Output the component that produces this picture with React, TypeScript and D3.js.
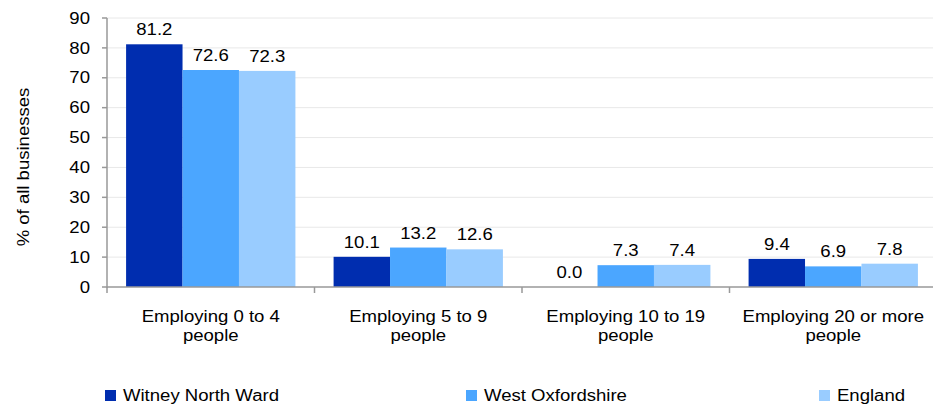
import React from "react";
import * as d3 from "d3";

const categories = [
  ["Employing 0 to 4", "people"],
  ["Employing 5 to 9", "people"],
  ["Employing 10 to 19", "people"],
  ["Employing 20 or more", "people"],
];
const seriesNames = ["Witney North Ward", "West Oxfordshire", "England"];
const witney = [81.2, 10.1, 0.0, 9.4];
const westOx = [72.6, 13.2, 7.3, 6.9];
const england = [72.3, 12.6, 7.4, 7.8];
const yTicks = [0, 10, 20, 30, 40, 50, 60, 70, 80, 90];
const colors = ["#002DAF", "#4BA6FF", "#99CCFF"];

const SX = 1.16;

function T(props: { x: number; y: number; anchor?: string; rotate?: number; children: React.ReactNode; dy?: string }) {
  const { x, y, anchor = "start", rotate = 0, children, dy } = props;
  return (
    <text
      transform={`translate(${x},${y}) rotate(${rotate}) scale(${SX},1)`}
      textAnchor={anchor}
      fontSize={16}
      fill="#000"
      dy={dy}
    >
      {children}
    </text>
  );
}

export default function App() {
  const W = 933, H = 406;
  const x0 = 107, x1 = 937;
  const yTop = 18, yBot = 287;
  const series = [witney, westOx, england];
  const x = d3.scaleBand<number>().domain(d3.range(categories.length)).range([x0, x1]).paddingInner(0).paddingOuter(0);
  const y = d3.scaleLinear().domain([0, 90]).range([yBot, yTop]);
  const bw = x.bandwidth();
  const groupPad = bw * 0.092;
  const xs = d3.scaleBand<number>().domain([0, 1, 2]).range([groupPad, bw - groupPad]);
  const font = "'Liberation Sans', Arial, sans-serif";
  const legendX = [105, 466, 819];
  return (
    <svg width={W} height={H} style={{ position: "absolute", left: 0, top: 0, fontFamily: font }}>
      <rect width={W} height={H} fill="#fff" />
      {yTicks.map((t) => (
        <g key={t}>
          {t > 0 && <line x1={x0} x2={x1} y1={y(t)} y2={y(t)} stroke="#e8e8e8" strokeWidth={1} />}
          <line x1={x0 - 5} x2={x0} y1={y(t)} y2={y(t)} stroke="#999" strokeWidth={1.5} />
          <T x={x0 - 17} y={y(t)} anchor="end" dy="0.35em">{t}</T>
        </g>
      ))}
      {series.map((vals, si) =>
        vals.map((v, ci) => {
          const bx = (x(ci) as number) + (xs(si) as number);
          return (
            <g key={si + "-" + ci}>
              {v > 0 && (
                <rect x={bx} y={y(v)} width={xs.bandwidth()} height={yBot - y(v)} fill={colors[si]} />
              )}
              <T x={bx + xs.bandwidth() / 2} y={y(v) - 9} anchor="middle">
                {v.toFixed(1)}
              </T>
            </g>
          );
        })
      )}
      <line x1={x0} x2={x0} y1={yTop} y2={yBot + 1} stroke="#999" strokeWidth={1.5} />
      <line x1={x0} x2={x1} y1={yBot} y2={yBot} stroke="#999" strokeWidth={1.5} />
      {categories.map((c, i) => (
        <g key={i}>
          <line x1={(x(i) as number)} x2={(x(i) as number)} y1={yBot} y2={yBot + 6} stroke="#999" strokeWidth={1.5} />
          {c.map((line, li) => (
            <T key={li} x={(x(i) as number) + bw / 2} y={322 + li * 19} anchor="middle">
              {line}
            </T>
          ))}
        </g>
      ))}
      <T x={29} y={167} rotate={-90} anchor="middle">% of all businesses</T>
      {seriesNames.map((n, i) => (
        <g key={n}>
          <rect x={legendX[i]} y={390} width={11} height={11} fill={colors[i]} />
          <T x={legendX[i] + 18} y={401}>{n}</T>
        </g>
      ))}
    </svg>
  );
}
